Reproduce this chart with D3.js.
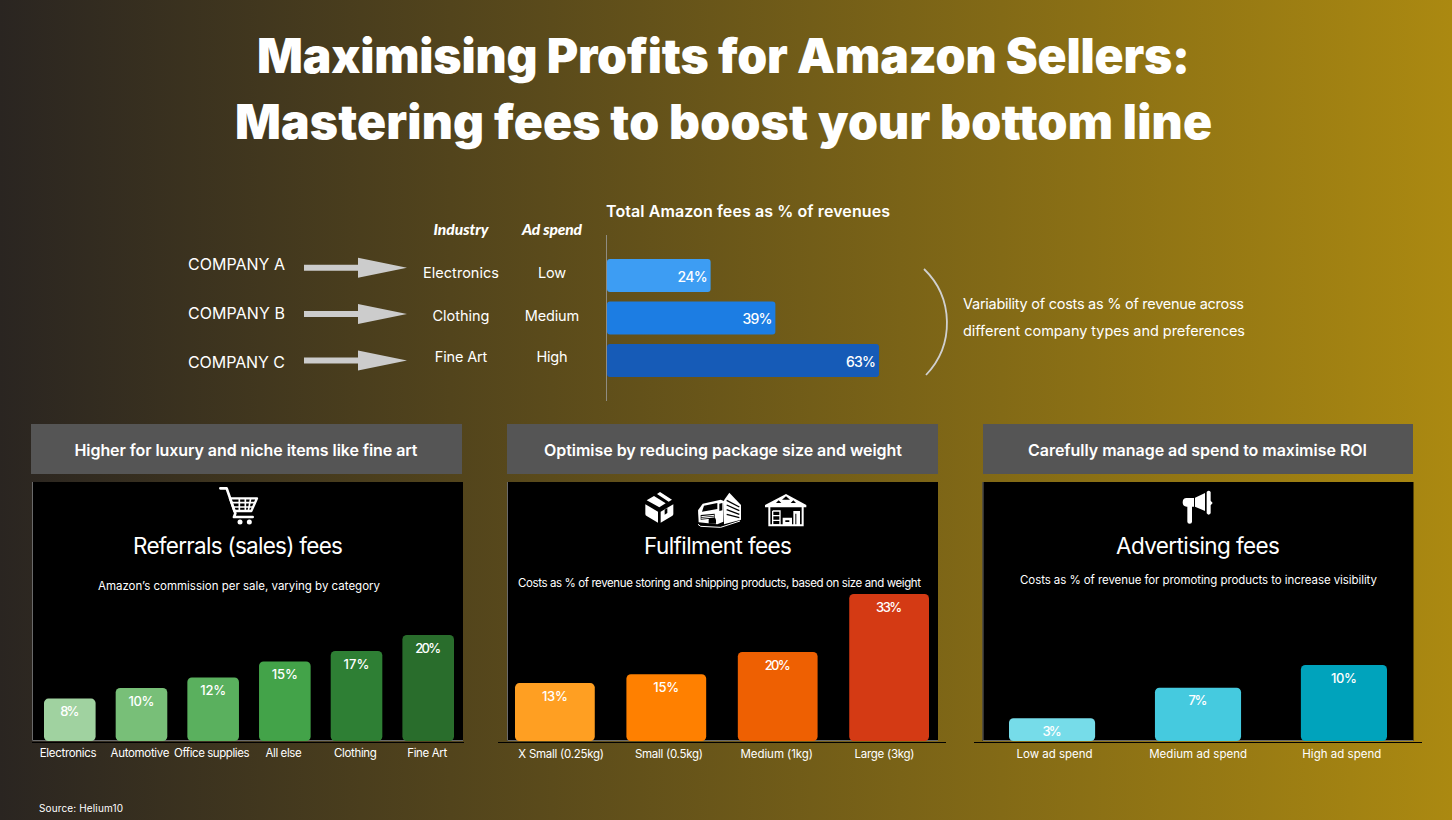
<!DOCTYPE html>
<html>
<head>
<meta charset="utf-8">
<title>Maximising Profits for Amazon Sellers</title>
<script src="https://cdn.jsdelivr.net/npm/d3@7"></script>
<style>
  html, body { margin: 0; padding: 0; background: #000; overflow: hidden; }
  svg { display: block; }
  text { fill: #fff; font-family: "Inter", sans-serif; }
</style>
</head>
<body>
<svg id="chart" width="1452" height="820"></svg>
<script>
// Company comparison
const companies = ["COMPANY A", "COMPANY B", "COMPANY C"];
const industries = ["Electronics", "Clothing", "Fine Art"];
const adSpend = ["Low", "Medium", "High"];
const totalFees = [24, 39, 63];
const totalColors = ["#3d9df3", "#1c7de3", "#165bb7"];

// Referral fees by category
const referralCategories = ["Electronics", "Automotive", "Office supplies", "All else", "Clothing", "Fine Art"];
const referralValues = [8, 10, 12, 15, 17, 20];
const referralColors = ["#a0d2a0", "#78bf78", "#5ab05e", "#43a349", "#2e7f34", "#296d2c"];

// Fulfilment fees by parcel size
const fulfilmentCategories = ["X Small (0.25kg)", "Small (0.5kg)", "Medium (1kg)", "Large (3kg)"];
const fulfilmentValues = [13, 15, 20, 33];
const fulfilmentColors = ["#ff9f22", "#ff8000", "#ee6002", "#d43a14"];

// Advertising fees by spend level
const advertisingCategories = ["Low ad spend", "Medium ad spend", "High ad spend"];
const advertisingValues = [3, 7, 10];
const advertisingColors = ["#76dce9", "#45cadf", "#00a3bc"];

const svg = d3.select("#chart");

const defs = svg.append("defs");
const bg = defs.append("linearGradient").attr("id", "bg").attr("x1", 0).attr("x2", 1).attr("y1", 0).attr("y2", 0);
bg.append("stop").attr("offset", 0).attr("stop-color", "#2a2521");
bg.append("stop").attr("offset", 1).attr("stop-color", "#ab8911");
svg.append("rect").attr("width", 1452).attr("height", 820).attr("fill", "url(#bg)");

// Places one line of text and stretches it to an exact length in pixels.
function label(str, x, y, o) {
  const t = svg.append("text").attr("x", x).attr("y", y).text(str)
    .attr("text-anchor", o.anchor || "middle")
    .attr("font-size", o.size)
    .attr("font-weight", o.weight || 400);
  if (o.family) t.style("font-family", o.family);
  if (o.italic) t.attr("font-style", "italic");
  if (o.width) t.attr("textLength", o.width).attr("lengthAdjust", "spacing");
  return t;
}

// Headline
label("Maximising Profits for Amazon Sellers:", 723.5, 73, { size: 48, weight: 900, width: 933 });
label("Mastering fees to boost your bottom line", 723.5, 139, { size: 48, weight: 900, width: 977 });

// Company rows with arrows
const companyBase = [270, 318.5, 367.5];
const companyWidth = [97, 97, 97];
companies.forEach((c, i) => label(c, 188, companyBase[i], { anchor: "start", size: 16, width: companyWidth[i] }));

const arrowY = d3.scalePoint().domain(companies).range([267.7, 360.5]);
svg.append("g").selectAll("path").data(companies).join("path")
  .attr("fill", "#cccccc")
  .attr("d", d => {
    const y = arrowY(d);
    return `M304,${y - 3}H358V${y - 10}L407,${y}L358,${y + 10}V${y + 3}H304Z`;
  });

label("Industry", 461, 235, { size: 15.5, weight: 900, italic: true, family: "Lato", width: 55 });
label("Ad spend", 552, 235, { size: 15.5, weight: 900, italic: true, family: "Lato", width: 60 });

const rowBase = [278, 320.5, 362];
const industryWidth = [76, 57, 52.5];
const spendWidth = [28, 54.5, 31];
industries.forEach((c, i) => label(c, 461, rowBase[i], { size: 14.5, width: industryWidth[i] }));
adSpend.forEach((c, i) => label(c, 552, rowBase[i], { size: 14.5, width: spendWidth[i] }));

// Total fees horizontal bars
label("Total Amazon fees as % of revenues", 606, 217, { anchor: "start", size: 16, weight: 600, width: 284 });
const totalX = d3.scaleLinear().domain([0, 63]).range([607, 879]);
const totalY = d3.scaleBand().domain(companies).range([259, 377]).paddingInner(0.22);

svg.append("line").attr("x1", 606.5).attr("x2", 606.5).attr("y1", 235).attr("y2", 401)
  .attr("stroke", "#8f8c82").attr("stroke-width", 1);

svg.append("g").selectAll("rect").data(totalFees).join("rect")
  .attr("x", totalX(0))
  .attr("y", (d, i) => totalY(companies[i]))
  .attr("width", d => totalX(d) - totalX(0))
  .attr("height", totalY.bandwidth())
  .attr("rx", 3)
  .attr("fill", (d, i) => totalColors[i]);

totalFees.forEach((d, i) => {
  label(d + "%", totalX(d) - 3, totalY(companies[i]) + 23, { anchor: "end", size: 14, weight: 500, width: 30 });
});

// Bracket and note
svg.append("path").attr("d", "M924,269A75,75 0 0 1 926,375")
  .attr("fill", "none").attr("stroke", "#d0d0d0").attr("stroke-width", 1.8);
label("Variability of costs as % of revenue across", 963, 309, { anchor: "start", size: 14.5, width: 281 });
label("different company types and preferences", 963, 336, { anchor: "start", size: 14.5, width: 282 });

// One fee panel: header strip, black plot, title, bars and category axis
function panel(cfg) {
  svg.append("rect").attr("x", cfg.headerLeft).attr("y", 424).attr("width", cfg.headerSpan).attr("height", 50).attr("fill", "#555555");
  label(cfg.header, cfg.headerX, 456, { size: 16, weight: 600, width: cfg.headerWidth });

  svg.append("rect").attr("x", cfg.left).attr("y", 482).attr("width", 431).attr("height", 259).attr("fill", "#000");
  svg.append("path").attr("d", `M${cfg.left + 0.5},482V740.5H${cfg.left + 431}`)
    .attr("fill", "none").attr("stroke", "#6a6a6a").attr("stroke-width", 1);

  label(cfg.title, cfg.titleX, 554, { size: 22.5, width: cfg.titleWidth });
  label(cfg.subtitle, cfg.subX, cfg.subY, { size: 11.5, width: cfg.subWidth });

  const x = d3.scaleBand().domain(cfg.categories).range(cfg.barRange).paddingInner(cfg.gap);
  const y = d3.scaleLinear().domain([0, cfg.maxValue]).range([741, cfg.maxTop]);

  svg.append("g").selectAll("rect").data(cfg.values).join("rect")
    .attr("x", (d, i) => x(cfg.categories[i]))
    .attr("y", d => y(d))
    .attr("width", x.bandwidth())
    .attr("height", d => y(0) - y(d))
    .attr("rx", 4.5)
    .attr("fill", (d, i) => cfg.colors[i]);

  cfg.values.forEach((d, i) => {
    label(d + "%", x(cfg.categories[i]) + x.bandwidth() / 2, y(d) + 17.6,
      { size: 13, weight: 500, width: d < 10 ? 19 : 26 });
  });

  svg.append("line").attr("x1", cfg.rule[0]).attr("x2", cfg.rule[1]).attr("y1", 742.5).attr("y2", 742.5)
    .attr("stroke", "#000").attr("stroke-width", 1);

  const labelScale = d3.scalePoint().domain(cfg.categories).range(cfg.labelRange);
  const axis = svg.append("g").attr("transform", `translate(0,${cfg.axisY})`)
    .call(d3.axisBottom(labelScale).tickSize(0).tickPadding(0));
  axis.select(".domain").remove();
  axis.selectAll("text")
    .attr("y", 0).attr("dy", 0)
    .attr("fill", "#fff")
    .attr("font-size", 11.5)
    .style("font-family", "Inter")
    .attr("textLength", (d, i) => cfg.labelWidths[i])
    .attr("lengthAdjust", "spacing");
}

panel({
  left: 32, headerLeft: 31, headerSpan: 431,
  header: "Higher for luxury and niche items like fine art", headerX: 246, headerWidth: 343,
  title: "Referrals (sales) fees", titleX: 238, titleWidth: 210,
  subtitle: "Amazon’s commission per sale, varying by category", subX: 239, subY: 590, subWidth: 282,
  categories: referralCategories, values: referralValues, colors: referralColors,
  barRange: [44, 454], gap: 0.28, maxValue: 20, maxTop: 635,
  rule: [32, 464], labelRange: [67.7, 426.7], axisY: 757,
  labelWidths: [57, 59, 75.5, 36, 43, 40]
});

panel({
  left: 507, headerLeft: 507, headerSpan: 431,
  header: "Optimise by reducing package size and weight", headerX: 723, headerWidth: 358,
  title: "Fulfilment fees", titleX: 718, titleWidth: 148,
  subtitle: "Costs as % of revenue storing and shipping products, based on size and weight", subX: 719.5, subY: 587, subWidth: 403,
  categories: fulfilmentCategories, values: fulfilmentValues, colors: fulfilmentColors,
  barRange: [515, 929], gap: 0.284, maxValue: 33, maxTop: 594,
  rule: [498, 946], labelRange: [560.7, 884], axisY: 758,
  labelWidths: [85.7, 68, 72.7, 60]
});

panel({
  left: 982.5, headerLeft: 983, headerSpan: 430,
  header: "Carefully manage ad spend to maximise ROI", headerX: 1197.5, headerWidth: 339,
  title: "Advertising fees", titleX: 1198, titleWidth: 164,
  subtitle: "Costs as % of revenue for promoting products to increase visibility", subX: 1198.5, subY: 584, subWidth: 357,
  categories: advertisingCategories, values: advertisingValues, colors: advertisingColors,
  barRange: [1009, 1387], gap: 0.41, maxValue: 10, maxTop: 665,
  rule: [974, 1422], labelRange: [1054, 1341.3], axisY: 758,
  labelWidths: [76, 98, 79]
});

label("Source: Helium10", 39, 812, { anchor: "start", size: 10, width: 84 });

// Pictograms, drawn on a 3x grid and scaled down
function icon(ox, oy) {
  return svg.append("g").attr("transform", `translate(${ox},${oy}) scale(${1 / 3})`);
}

// Shopping cart
const cart = icon(210, 484);
cart.append("path").attr("fill", "none").attr("stroke", "#fff").attr("stroke-width", 8).attr("stroke-linejoin", "round").attr("stroke-linecap", "round")
  .attr("d", "M31,13H50L76,88L72,99H128");
cart.append("path").attr("fill", "none").attr("stroke", "#fff").attr("stroke-width", 7).attr("stroke-linejoin", "round")
  .attr("d", "M60,43H141L124,81H73Z");
cart.append("path").attr("fill", "none").attr("stroke", "#fff").attr("stroke-width", 5)
  .attr("d", "M65,56H135M70,69H129M88,43V81M106,43V81M122,43L115,81");
cart.selectAll("circle").data([90, 118]).join("circle")
  .attr("cx", d => d).attr("cy", 114).attr("r", 7.5).attr("fill", "#fff");

// Parcel, truck and warehouse
const logistics = icon(630, 485);
logistics.append("path").attr("fill", "#fff")
  .attr("d", "M46,58L84,80V113L50,93Q46,91 46,87Z M92,80L130,58V87Q130,91 126,93L92,113Z M50,46L72,33L107,55L88,67Z M81,27L90,21L126,44L116,50Z");
logistics.append("path").attr("fill", "#000").attr("d", "M104,74L112,69V84L104,89Z");

// Truck: cab in front, slatted cargo box behind
logistics.append("path").attr("fill", "#fff")
  .attr("d", "M204,76L218,56L272,44L282,48L280,110L262,118L206,112Z");
logistics.append("path").attr("fill", "#000")
  .attr("d", "M222,62L262,54V72L216,80Z M268,56L277,54V76L268,78Z M212,90L254,86V100L212,104Z M236,108A11,11 0 0 1 258,106V116H236Z");
logistics.append("path").attr("fill", "none").attr("stroke", "#fff").attr("stroke-width", 3)
  .attr("d", "M214,95L252,91M214,100L252,96M204,118L212,124L272,127L330,108");
logistics.append("path").attr("fill", "#fff")
  .attr("d", "M282,46L298,23L333,60V104L282,118Z");
logistics.append("path").attr("fill", "none").attr("stroke", "#000").attr("stroke-width", 4)
  .attr("d", "M290,46L328,66M290,60L328,77M290,74L328,88M290,88L328,98");

// Warehouse with shelves and stacked goods
logistics.append("path").attr("fill", "#fff").attr("fill-rule", "evenodd")
  .attr("d", "M468,27L529,60V67H405V60Z M468,34L456,44H480Z M446,46L438,54H454Z M490,46L482,54H498Z");
logistics.append("path").attr("fill", "none").attr("stroke", "#fff").attr("stroke-width", 6)
  .attr("d", "M418,66V121H518V66");
logistics.append("path").attr("fill", "none").attr("stroke", "#fff").attr("stroke-width", 4)
  .attr("d", "M428,78H450V120M428,78V120H450M428,92H450M428,106H450");
logistics.append("path").attr("fill", "#fff")
  .attr("d", "M458,98H486V121H458Z M490,78H510V121H490Z");
logistics.append("path").attr("fill", "#000").attr("d", "M466,106H478V111H466Z M496,86H499V118H496Z");

// Megaphone
const horn = icon(1170, 484);
horn.append("path").attr("fill", "#fff")
  .attr("d", "M50,42H72V68H66V113Q66,119 59,119Q52,119 52,113V68H50Q38,68 38,55Q38,42 50,42Z M75,41L105,27V81L75,68Z M110,24Q116,16 122,24V50L128,57L122,64V88Q116,96 110,88Z");
</script>
</body>
</html>
